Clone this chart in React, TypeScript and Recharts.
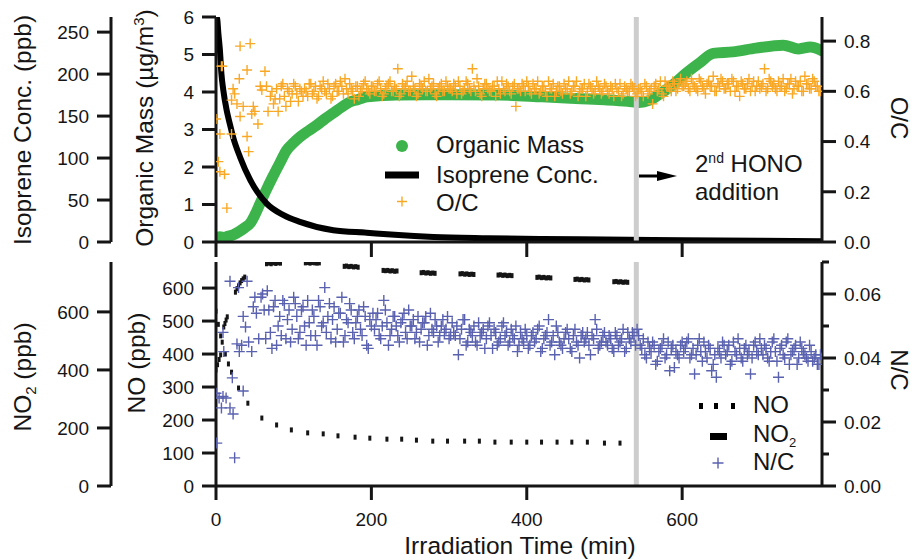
import { ComposedChart, Line, Scatter, XAxis, YAxis, ReferenceLine } from 'recharts';

const FONT = '"Liberation Sans", Arial, Helvetica, sans-serif';
const INK = '#151515';
const GREEN = '#3cb44b';
const ORANGE = '#f9a825';
const BLUE = '#5a62b0';
const HONO_GRAY = '#cdcdcd';

// second HONO addition (min)
const HONO_T = 541;

// [time (min), organic mass (ug/m3)]
const organicMass: [number, number][] = [
  [0, 0.1], [5, 0.14], [10, 0.12], [15, 0.15], [22, 0.19], [30, 0.28], [37, 0.38], [44, 0.5],
  [50, 0.72], [57, 1.04], [65, 1.4], [73, 1.74], [82, 2.1], [91, 2.45], [100, 2.65], [108, 2.8],
  [118, 2.95], [130, 3.12], [140, 3.28], [151, 3.44], [162, 3.6], [172, 3.73], [183, 3.8],
  [194, 3.87], [210, 3.9], [237, 3.92], [270, 3.93], [300, 3.93], [365, 3.92], [420, 3.87],
  [470, 3.82], [500, 3.79], [530, 3.75], [545, 3.72], [558, 3.78], [575, 4.0], [588, 4.19],
  [605, 4.5], [622, 4.77], [640, 5.03], [665, 5.07], [695, 5.17], [730, 5.25], [750, 5.15],
  [765, 5.2], [780, 5.1],
];

// [time (min), isoprene (ppb)]
const isoprene: [number, number][] = [
  [0, 268], [1.5, 266], [3, 249], [5, 229], [7, 200], [9.4, 181], [13.7, 157], [18, 140],
  [22, 125], [31, 101], [44, 74], [65, 46], [87, 32], [108, 24], [151, 14], [194, 11],
  [230, 8.5], [280, 6], [350, 4.5], [420, 3.5], [500, 3], [600, 2], [700, 1.5], [780, 1],
];

// O/C, scattered first hour
const ocEarly: [number, number][] = [
  [0, 0.49], [3, 0.32], [5, 0.43], [5, 0.28], [7, 0.7], [8, 0.7], [11, 0.27], [14, 0.135],
  [20, 0.565], [20, 0.43], [22, 0.61], [24, 0.59], [27, 0.55], [30, 0.65], [31, 0.78], [31, 0.5],
  [35, 0.54], [40, 0.685], [40, 0.42], [42, 0.36], [44, 0.79], [46, 0.51], [48, 0.54], [50, 0.52],
  [54, 0.47], [57, 0.62], [59, 0.605], [63, 0.68], [65, 0.62], [67, 0.52],
];

// O/C, every 4 min from 70 min
const OC_START = 70;
const OC_STEP = 4;
const ocValues = [
  0.58, 0.55, 0.61, 0.57, 0.63, 0.54, 0.6, 0.59, 0.62, 0.56, 0.6,
  0.61, 0.58, 0.63, 0.6, 0.57, 0.62, 0.64, 0.59, 0.61, 0.58, 0.63, 0.6, 0.62, 0.65, 0.59, 0.61, 0.57, 0.62, 0.6, 0.63, 0.61, 0.59,
  0.62, 0.6, 0.64, 0.58, 0.61, 0.63, 0.6, 0.62, 0.69, 0.59, 0.61, 0.64, 0.6, 0.62, 0.58, 0.63, 0.61, 0.6, 0.65, 0.62, 0.59, 0.61, 0.63, 0.6, 0.62,
  0.61, 0.63, 0.59, 0.62, 0.6, 0.64, 0.61, 0.69, 0.6, 0.62, 0.58, 0.63, 0.61, 0.6, 0.62, 0.64, 0.59, 0.61, 0.63, 0.6, 0.62, 0.54, 0.61, 0.63, 0.6,
  0.62, 0.59, 0.61, 0.64, 0.6, 0.62, 0.58, 0.61, 0.63, 0.6, 0.62, 0.59, 0.61, 0.64, 0.6, 0.62, 0.58, 0.61, 0.63, 0.6, 0.62, 0.59, 0.64, 0.61, 0.6,
  0.62, 0.59, 0.61, 0.63, 0.6, 0.58, 0.62, 0.6, 0.63, 0.61, 0.59,
  0.61, 0.58, 0.62, 0.6, 0.55, 0.63, 0.61, 0.59, 0.64, 0.62, 0.6, 0.63, 0.61, 0.65,
  0.62, 0.64, 0.6, 0.63, 0.61, 0.65, 0.62, 0.59, 0.64, 0.62, 0.6, 0.63, 0.65, 0.61, 0.63, 0.6, 0.64, 0.62, 0.58, 0.63, 0.61, 0.65, 0.62, 0.6, 0.64,
  0.62, 0.69, 0.61, 0.64, 0.63, 0.6, 0.62, 0.65, 0.61, 0.63, 0.59, 0.64, 0.62, 0.6, 0.66, 0.63, 0.61, 0.64, 0.62, 0.6,
];

// O/C, interleaved samples every 4 min from 72 min
const OC_START_B = 72;
const ocValuesB = [
  0.6, 0.57, 0.52, 0.62, 0.58, 0.61, 0.56, 0.63, 0.59, 0.61, 0.58,
  0.6, 0.63, 0.59, 0.62, 0.58, 0.61, 0.6, 0.63, 0.57, 0.62, 0.6, 0.64, 0.59, 0.61, 0.63, 0.6, 0.62, 0.58, 0.61, 0.64, 0.6, 0.62,
  0.6, 0.63, 0.61, 0.59, 0.62, 0.64, 0.6, 0.61, 0.58, 0.63, 0.62, 0.6, 0.66, 0.61, 0.59, 0.62, 0.64, 0.6, 0.61, 0.63, 0.58, 0.62, 0.6, 0.64, 0.61,
  0.6, 0.62, 0.64, 0.59, 0.61, 0.63, 0.6, 0.62, 0.65, 0.59, 0.61, 0.63, 0.6, 0.62, 0.58, 0.61, 0.64, 0.6, 0.62, 0.59, 0.63, 0.61, 0.6, 0.62, 0.64,
  0.6, 0.63, 0.61, 0.59, 0.62, 0.6, 0.64, 0.61, 0.58, 0.62, 0.6, 0.63, 0.61, 0.59, 0.62, 0.64, 0.6, 0.61, 0.58, 0.63, 0.61, 0.6, 0.62, 0.59, 0.63,
  0.6, 0.62, 0.58, 0.61, 0.63, 0.59, 0.61, 0.6, 0.62, 0.58, 0.61,
  0.6, 0.63, 0.59, 0.61, 0.62, 0.6, 0.64, 0.58, 0.62, 0.61, 0.64, 0.6, 0.63, 0.62,
  0.63, 0.61, 0.65, 0.62, 0.6, 0.64, 0.61, 0.63, 0.62, 0.66, 0.6, 0.62, 0.64, 0.61, 0.63, 0.65, 0.6, 0.62, 0.64, 0.61, 0.63, 0.6, 0.64, 0.62, 0.61,
  0.63, 0.6, 0.65, 0.62, 0.61, 0.64, 0.62, 0.6, 0.63, 0.65, 0.61, 0.62, 0.64, 0.6, 0.63, 0.61, 0.65, 0.62, 0.6,
];

// [time (min), NO (ppb)]
const no: [number, number][] = [
  [0, 530], [3, 490], [6, 455], [8, 436], [12, 400], [16, 370], [20, 345], [29, 297], [41, 251],
  [59, 206], [78, 185], [97, 170], [118, 161], [138, 158], [157, 152], [179, 148], [198, 145],
  [220, 142], [239, 142], [258, 139], [279, 136], [298, 136], [320, 136], [339, 136], [359, 133],
  [380, 133], [400, 133], [419, 133], [439, 133], [458, 133], [478, 133], [500, 130], [520, 130],
];

// [time (min), NO2 (ppb)], measured in bursts
const no2: [number, number][] = [
  [0, 400], [2, 418], [4, 436], [6, 452],
  [10, 548], [11.5, 560], [13, 572], [14.5, 583],
  [25, 668], [27, 680], [29, 690], [31, 700], [33, 708], [35, 714], [37, 720],
  [65, 766], [68, 768], [71, 766], [74, 769], [77, 767], [80, 769], [83, 768],
  [115, 769], [118, 770], [121, 768], [124, 770], [127, 769], [130, 768], [133, 769],
  [165, 757], [168, 758], [171, 756], [174, 757], [177, 755], [180, 756], [183, 754],
  [215, 743], [218, 742], [221, 743], [224, 741], [227, 742], [230, 740], [233, 741],
  [264, 735], [267, 736], [270, 734], [273, 735], [276, 733], [279, 734], [282, 733],
  [314, 731], [317, 732], [320, 730], [323, 731], [326, 729], [329, 730], [332, 729],
  [363, 727], [366, 728], [369, 726], [372, 727], [375, 725], [378, 726], [381, 725],
  [413, 719], [416, 720], [419, 718], [422, 719], [425, 717], [428, 718], [431, 717],
  [462, 712], [465, 713], [468, 711], [471, 712], [474, 710], [477, 711], [480, 710],
  [512, 704], [515, 705], [518, 703], [521, 704], [524, 702], [527, 703], [530, 702],
];

// N/C, scattered first hour
const ncEarly: [number, number][] = [
  [0, 0.029], [1, 0.0134], [4, 0.0275], [7, 0.0244], [9, 0.028], [10, 0.042], [9, 0.048],
  [13, 0.0275], [18, 0.0244], [18, 0.064], [21, 0.0338], [22, 0.0225], [24, 0.0088], [27, 0.0444],
  [29, 0.062], [30, 0.042], [33, 0.044], [35, 0.053], [35, 0.0297], [38, 0.0497], [40, 0.064],
  [42, 0.045], [46, 0.042], [48, 0.056], [50, 0.059], [52, 0.054], [55, 0.046], [58, 0.059],
];

// N/C, every 4 min from 60 min
const NC_START = 60;
const NC_STEP = 4;
const ncValues = [
  0.06, 0.046, 0.055, 0.043, 0.058, 0.05, 0.047, 0.057, 0.052, 0.045, 0.059,
  0.053, 0.048, 0.056, 0.044, 0.051, 0.055, 0.047, 0.058, 0.05, 0.062, 0.053, 0.046, 0.056, 0.049, 0.054, 0.045, 0.052, 0.057, 0.048, 0.051, 0.055, 0.047, 0.053, 0.043, 0.05,
  0.049, 0.054, 0.046, 0.058, 0.051, 0.047, 0.053, 0.05, 0.045, 0.052, 0.048, 0.055, 0.05, 0.046, 0.053, 0.049, 0.051, 0.044, 0.054, 0.048, 0.05, 0.047, 0.052, 0.049, 0.046,
  0.051, 0.047, 0.041, 0.049, 0.052, 0.045, 0.048, 0.05, 0.044, 0.047, 0.049, 0.046, 0.051, 0.043, 0.048, 0.045, 0.05, 0.047, 0.044, 0.049, 0.046, 0.042, 0.048, 0.045, 0.047,
  0.044, 0.048, 0.046, 0.05, 0.043, 0.047, 0.052, 0.045, 0.041, 0.048, 0.044, 0.046, 0.049, 0.043, 0.047, 0.045, 0.04, 0.048, 0.046, 0.044, 0.047, 0.052, 0.043, 0.045, 0.048,
  0.044, 0.046, 0.042, 0.047, 0.045, 0.049, 0.043, 0.046, 0.048, 0.044,
  0.047, 0.043, 0.041, 0.045, 0.042, 0.044, 0.039, 0.043, 0.046, 0.041, 0.036, 0.044, 0.042, 0.04, 0.045,
  0.043, 0.046, 0.041, 0.035, 0.044, 0.042, 0.045, 0.04, 0.043, 0.038, 0.034, 0.042, 0.045, 0.041, 0.044, 0.039, 0.042, 0.046, 0.04, 0.043, 0.041, 0.035, 0.044, 0.042, 0.046,
  0.041, 0.043, 0.039, 0.045, 0.042, 0.034, 0.044, 0.04, 0.046, 0.041, 0.043, 0.038, 0.045, 0.042, 0.04, 0.044, 0.039, 0.041, 0.038, 0.04,
];

// N/C, interleaved samples every 4 min from 62 min
const NC_START_B = 62;
const ncValuesB = [
  0.055, 0.061, 0.048, 0.056, 0.044, 0.053, 0.058, 0.046, 0.055, 0.049, 0.057,
  0.046, 0.055, 0.05, 0.058, 0.047, 0.053, 0.044, 0.056, 0.051, 0.048, 0.057, 0.052, 0.045, 0.054, 0.059, 0.047, 0.051, 0.055, 0.046, 0.053, 0.049, 0.056, 0.044, 0.052, 0.054,
  0.052, 0.047, 0.05, 0.055, 0.044, 0.049, 0.053, 0.047, 0.051, 0.054, 0.046, 0.05, 0.052, 0.048, 0.045, 0.051, 0.053, 0.047, 0.049, 0.052, 0.045, 0.05, 0.048, 0.053, 0.047,
  0.048, 0.05, 0.046, 0.052, 0.044, 0.049, 0.047, 0.045, 0.051, 0.048, 0.043, 0.05, 0.047, 0.049, 0.044, 0.046, 0.051, 0.048, 0.045, 0.047, 0.05, 0.044, 0.046, 0.049, 0.043,
  0.047, 0.045, 0.049, 0.042, 0.046, 0.048, 0.044, 0.047, 0.05, 0.045, 0.043, 0.048, 0.046, 0.042, 0.049, 0.044, 0.047, 0.045, 0.048, 0.041, 0.046, 0.049, 0.044, 0.047, 0.045,
  0.047, 0.043, 0.048, 0.044, 0.046, 0.042, 0.048, 0.045, 0.047, 0.049,
  0.044, 0.046, 0.04, 0.043, 0.045, 0.038, 0.042, 0.044, 0.04, 0.045, 0.043, 0.037, 0.041, 0.044, 0.042,
  0.045, 0.04, 0.043, 0.041, 0.046, 0.039, 0.042, 0.044, 0.036, 0.041, 0.043, 0.04, 0.044, 0.042, 0.038, 0.045, 0.041, 0.043, 0.039, 0.044, 0.042, 0.04, 0.045, 0.041, 0.043,
  0.044, 0.04, 0.042, 0.046, 0.039, 0.043, 0.041, 0.045, 0.038, 0.042, 0.044, 0.04, 0.043, 0.041, 0.039, 0.042, 0.04, 0.038, 0.041,
];

const timeTicks = [0, 200, 400, 600];
const isoTicks = [0, 50, 100, 150, 200, 250];
const omTicks = [0, 1, 2, 3, 4, 5, 6];
const ocTicks = [0, 0.2, 0.4, 0.6, 0.8];
const noTicks = [0, 100, 200, 300, 400, 500, 600];
const no2Ticks = [0, 200, 400, 600];
const ncTicks = [0, 0.01, 0.02, 0.03, 0.04, 0.05, 0.06, 0.07];

const pairs = (arr: [number, number][]) => arr.map(([t, v]) => ({ t, v }));
const sampled = (start: number, step: number, vals: number[]) =>
  vals.map((v, i) => ({ t: start + i * step, v }));

const omData = pairs(organicMass);
const isoData = pairs(isoprene);
const ocData = [
  ...pairs(ocEarly),
  ...sampled(OC_START, OC_STEP, ocValues),
  ...sampled(OC_START_B, OC_STEP, ocValuesB),
];
const noData = pairs(no);
const no2Data = pairs(no2);
const ncData = [
  ...pairs(ncEarly),
  ...sampled(NC_START, NC_STEP, ncValues),
  ...sampled(NC_START_B, NC_STEP, ncValuesB),
];

// left axes get stacked by id order: "a_" sits against the plot, "b_" outside it
const OM_AXIS = 'a_om';
const ISO_AXIS = 'b_iso';
const NO_AXIS = 'a_no';
const NO2_AXIS = 'b_no2';

const axisLine = { stroke: INK, strokeWidth: 3 };
const tickLine = { stroke: INK, strokeWidth: 3 };
const tickFont = { fontSize: 19, fill: INK };

const plus = (color: string, s: number) => (p: any) => (
  <path
    d={`M${p.cx - s},${p.cy}H${p.cx + s}M${p.cx},${p.cy - s}V${p.cy + s}`}
    stroke={color}
    strokeWidth={1.4}
    fill="none"
  />
);

const tinyMark = (p: any) => <rect x={p.cx - 1.5} y={p.cy - 2.5} width={3} height={5} fill={INK} />;

function NcTick({ x, y, payload }: any) {
  const major = Math.round(payload.value * 100) % 2 === 0;
  return (
    <g>
      <line x1={x} x2={x + (major ? 14 : 7)} y1={y} y2={y} stroke={INK} strokeWidth={3} />
      {major && (
        <text x={x + 22} y={y} dy="0.36em" fontSize={19} fill={INK}>
          {payload.value.toFixed(2)}
        </text>
      )}
    </g>
  );
}

function TopPanel() {
  return (
    <ComposedChart width={914} height={262} margin={{ top: 17, right: 32, bottom: 0, left: 31 }}>
      <XAxis
        dataKey="t"
        type="number"
        domain={[0, 780]}
        allowDataOverflow
        ticks={timeTicks}
        interval={0}
        tickSize={15}
        tickFormatter={() => ''}
        height={20}
        axisLine={axisLine}
        tickLine={tickLine}
      />
      <YAxis
        yAxisId={OM_AXIS}
        dataKey="v"
        type="number"
        domain={[0, 6]}
        allowDataOverflow
        ticks={omTicks}
        interval={0}
        width={105}
        tickSize={14}
        tickMargin={8}
        tick={tickFont}
        axisLine={axisLine}
        tickLine={tickLine}
      />
      <YAxis
        yAxisId={ISO_AXIS}
        dataKey="v"
        type="number"
        domain={[0, 268]}
        allowDataOverflow
        ticks={isoTicks}
        interval={0}
        width={80}
        tickSize={14}
        tickMargin={8}
        tick={tickFont}
        axisLine={axisLine}
        tickLine={tickLine}
      />
      <YAxis
        yAxisId="oc"
        orientation="right"
        dataKey="v"
        type="number"
        domain={[0, 0.896]}
        allowDataOverflow
        ticks={ocTicks}
        interval={0}
        width={60}
        tickSize={14}
        tickMargin={8}
        tick={tickFont}
        tickFormatter={(v: number) => v.toFixed(1)}
        axisLine={axisLine}
        tickLine={tickLine}
      />
      <Line
        yAxisId={OM_AXIS}
        data={omData}
        dataKey="v"
        type="monotone"
        stroke={GREEN}
        strokeWidth={11}
        strokeLinecap="round"
        strokeLinejoin="round"
        dot={false}
        isAnimationActive={false}
      />
      <Line
        yAxisId={ISO_AXIS}
        data={isoData}
        dataKey="v"
        type="monotone"
        stroke="#000"
        strokeWidth={6}
        dot={false}
        isAnimationActive={false}
      />
      <Scatter yAxisId="oc" data={ocData} fill={ORANGE} shape={plus(ORANGE, 5)} isAnimationActive={false} />
      <ReferenceLine yAxisId={OM_AXIS} x={HONO_T} stroke={HONO_GRAY} strokeWidth={5} />
    </ComposedChart>
  );
}

function BottomPanel() {
  return (
    <ComposedChart width={914} height={310} margin={{ top: 12, right: 32, bottom: 0, left: 31 }}>
      <XAxis
        dataKey="t"
        type="number"
        domain={[0, 780]}
        allowDataOverflow
        ticks={timeTicks}
        interval={0}
        tickSize={14}
        tickMargin={13}
        tick={tickFont}
        height={74}
        axisLine={axisLine}
        tickLine={tickLine}
      />
      <YAxis
        yAxisId={NO_AXIS}
        dataKey="v"
        type="number"
        domain={[0, 679]}
        allowDataOverflow
        ticks={noTicks}
        interval={0}
        width={105}
        tickSize={14}
        tickMargin={8}
        tick={tickFont}
        axisLine={axisLine}
        tickLine={tickLine}
      />
      <YAxis
        yAxisId={NO2_AXIS}
        dataKey="v"
        type="number"
        domain={[0, 772]}
        allowDataOverflow
        ticks={no2Ticks}
        interval={0}
        width={80}
        tickSize={14}
        tickMargin={8}
        tick={tickFont}
        axisLine={axisLine}
        tickLine={tickLine}
      />
      <YAxis
        yAxisId="nc"
        orientation="right"
        dataKey="v"
        type="number"
        domain={[0, 0.07]}
        allowDataOverflow
        ticks={ncTicks}
        interval={0}
        width={60}
        tickSize={0}
        tickMargin={0}
        tick={<NcTick />}
        axisLine={axisLine}
        tickLine={false}
      />
      <Scatter yAxisId={NO_AXIS} data={noData} fill={INK} shape={tinyMark} isAnimationActive={false} />
      <Scatter yAxisId={NO2_AXIS} data={no2Data} fill={INK} shape={tinyMark} isAnimationActive={false} />
      <Scatter yAxisId="nc" data={ncData} fill={BLUE} shape={plus(BLUE, 5.5)} isAnimationActive={false} />
      <ReferenceLine yAxisId={NO_AXIS} x={HONO_T} stroke={HONO_GRAY} strokeWidth={5} />
    </ComposedChart>
  );
}

function Overlay() {
  const title = 24.5;
  const leg = 24;
  return (
    <svg
      width={914}
      height={560}
      style={{ position: 'absolute', left: 0, top: 0, pointerEvents: 'none' }}
      fontFamily={FONT}
      fill={INK}
    >
      {/* axis titles */}
      <text transform="translate(31,130) rotate(-90)" textAnchor="middle" fontSize={title}>
        Isoprene Conc. (ppb)
      </text>
      <text transform="translate(153,128) rotate(-90)" textAnchor="middle" fontSize={title}>
        Organic Mass (µg/m<tspan fontSize={15} dy={-9}>3</tspan>
        <tspan dy={9}>)</tspan>
      </text>
      <text transform="translate(891,118) rotate(90)" textAnchor="middle" fontSize={24}>
        O/C
      </text>
      <text transform="translate(31,377) rotate(-90)" textAnchor="middle" fontSize={title}>
        NO<tspan fontSize={15} dy={5}>2</tspan>
        <tspan dy={-5}> (ppb)</tspan>
      </text>
      <text transform="translate(145,363) rotate(-90)" textAnchor="middle" fontSize={title}>
        NO (ppb)
      </text>
      <text transform="translate(891,370) rotate(90)" textAnchor="middle" fontSize={24}>
        N/C
      </text>
      <text x={520} y={554} textAnchor="middle" fontSize={title}>
        Irradiation Time (min)
      </text>

      {/* top legend */}
      <circle cx={402} cy={146} r={6} fill={GREEN} />
      <text x={436} y={153} fontSize={leg}>Organic Mass</text>
      <line x1={385} x2={419} y1={175} y2={175} stroke="#000" strokeWidth={7} />
      <text x={436} y={183} fontSize={leg}>Isoprene Conc.</text>
      <path d="M397,201.5H407M402,196.5V206.5" stroke={ORANGE} strokeWidth={1.4} />
      <text x={436} y={211} fontSize={leg}>O/C</text>

      {/* HONO note */}
      <line x1={639} x2={661} y1={176} y2={176} stroke="#000" strokeWidth={3} />
      <polygon points="657,171 677,176 657,181" fill="#000" />
      <text x={695} y={172} fontSize={leg}>
        2<tspan fontSize={14} dy={-9}>nd</tspan>
        <tspan dy={9}> HONO</tspan>
      </text>
      <text x={695} y={200} fontSize={leg}>addition</text>

      {/* bottom legend */}
      <rect x={699} y={403} width={4} height={6} fill="#000" />
      <rect x={714} y={403} width={4} height={6} fill="#000" />
      <rect x={731} y={403} width={4} height={6} fill="#000" />
      <text x={753} y={413} fontSize={leg}>NO</text>
      <rect x={710} y={433} width={17} height={7} fill="#000" />
      <text x={753} y={442} fontSize={leg}>
        NO<tspan fontSize={13} dy={5}>2</tspan>
      </text>
      <path d="M712.5,463H723.5M718,457.5V468.5" stroke={BLUE} strokeWidth={1.4} />
      <text x={753} y={470} fontSize={leg}>N/C</text>
    </svg>
  );
}

export default function App() {
  return (
    <div
      style={{
        position: 'absolute',
        left: 0,
        top: 0,
        width: 914,
        height: 560,
        background: '#fff',
        fontFamily: FONT,
      }}
    >
      <div style={{ position: 'absolute', left: 0, top: 0 }}>
        <TopPanel />
      </div>
      <div style={{ position: 'absolute', left: 0, top: 250 }}>
        <BottomPanel />
      </div>
      <Overlay />
    </div>
  );
}
